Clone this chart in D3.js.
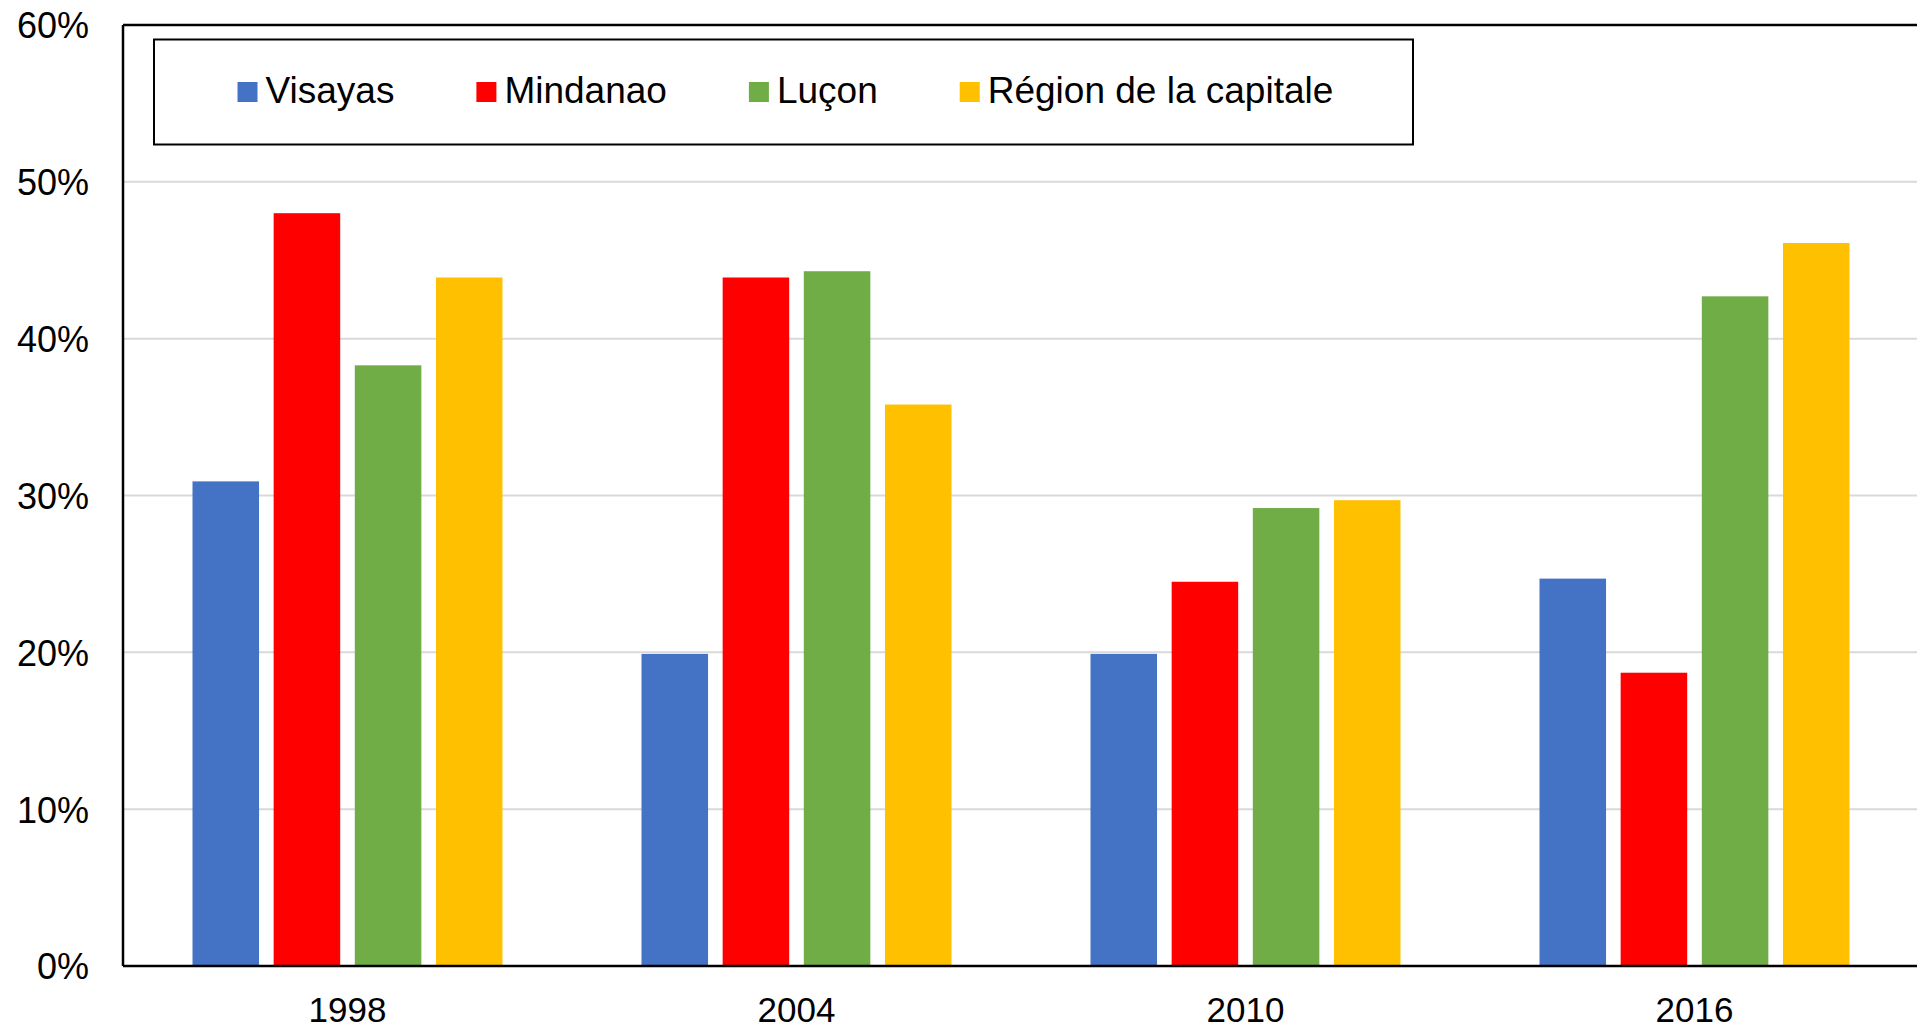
<!DOCTYPE html>
<html>
<head>
<meta charset="utf-8">
<script src="https://cdn.jsdelivr.net/npm/d3@7"></script>
<style>
  html, body { margin: 0; padding: 0; background: #fff; }
  svg { display: block; }
  text { font-family: "Liberation Sans", Arial, sans-serif; fill: #000; }
</style>
</head>
<body>
<svg id="chart" width="1917" height="1029"></svg>
<script>
const years = ["1998", "2004", "2010", "2016"];
const seriesNames = ["Visayas", "Mindanao", "Luçon", "Région de la capitale"];
const seriesColors = ["#4472C4", "#FF0000", "#70AD47", "#FFC000"];
const visayas = [30.9, 19.9, 19.9, 24.7];
const mindanao = [48.0, 43.9, 24.5, 18.7];
const lucon = [38.3, 44.3, 29.2, 42.7];
const capitale = [43.9, 35.8, 29.7, 46.1];
const yTicks = [0, 10, 20, 30, 40, 50, 60];

(function () {
const seriesValues = [visayas, mindanao, lucon, capitale];

const svg = d3.select("#chart");
const pLeft = 123, pRight = 1919, pTop = 25, pBottom = 966;

const x0 = d3.scaleBand().domain(years).range([pLeft, pRight]).paddingInner(0).paddingOuter(0);
const groupPad = 69.5;
const x1 = d3.scaleBand().domain(seriesNames)
  .range([groupPad, x0.bandwidth() - groupPad]).paddingInner(0.18).paddingOuter(0);
const y = d3.scaleLinear().domain([0, 60]).range([pBottom, pTop]);

// gridlines
svg.append("g").selectAll("line")
  .data(yTicks.filter(t => t > 0 && t < 60))
  .join("line")
  .attr("x1", pLeft).attr("x2", 1917)
  .attr("y1", d => y(d)).attr("y2", d => y(d))
  .attr("stroke", "#d9d9d9").attr("stroke-width", 2);

// bars
const rows = [];
years.forEach((yr, i) => {
  seriesNames.forEach((s, j) => rows.push({ year: yr, series: s, value: seriesValues[j][i], color: seriesColors[j] }));
});
svg.append("g").selectAll("rect")
  .data(rows)
  .join("rect")
  .attr("x", d => x0(d.year) + x1(d.series))
  .attr("width", x1.bandwidth())
  .attr("y", d => y(d.value))
  .attr("height", d => y(0) - y(d.value))
  .attr("fill", d => d.color);

// frame: left, top, bottom
svg.append("line").attr("x1", pLeft).attr("x2", pLeft).attr("y1", y(60)).attr("y2", y(0))
  .attr("stroke", "#000").attr("stroke-width", 2.5);
svg.append("line").attr("x1", pLeft).attr("x2", 1917).attr("y1", y(60)).attr("y2", y(60))
  .attr("stroke", "#000").attr("stroke-width", 2.5);
svg.append("line").attr("x1", pLeft).attr("x2", 1917).attr("y1", y(0)).attr("y2", y(0))
  .attr("stroke", "#000").attr("stroke-width", 2.5);

// y axis labels
const yAxis = d3.axisLeft(y).tickValues(yTicks).tickSize(0).tickPadding(0).tickFormat(d => d + "%");
const gy = svg.append("g").attr("transform", "translate(89,0)").call(yAxis);
gy.select(".domain").remove();
gy.selectAll("text").attr("font-size", 36).attr("font-family", '"Liberation Sans", Arial, sans-serif')
  .attr("fill", "#000").attr("dy", "0.36em").attr("x", 0);

// x axis labels
const xAxis = d3.axisBottom(x0).tickSize(0).tickPadding(0);
const gx = svg.append("g").attr("transform", `translate(0,${pBottom})`).call(xAxis);
gx.select(".domain").remove();
gx.selectAll("text").attr("font-size", 35).attr("font-family", '"Liberation Sans", Arial, sans-serif')
  .attr("fill", "#000").attr("y", 56).attr("dy", 0);

// legend
svg.append("rect").attr("x", 154).attr("y", 39.5).attr("width", 1259).attr("height", 105)
  .attr("fill", "none").attr("stroke", "#000").attr("stroke-width", 2);
let lx = 237.5;
seriesNames.forEach((s, j) => {
  const g = svg.append("g");
  g.append("rect").attr("x", lx).attr("y", 82).attr("width", 20).attr("height", 20).attr("fill", seriesColors[j]);
  const t = g.append("text").attr("x", lx + 28).attr("y", 103).attr("font-size", 37).text(s);
  const w = t.node().getComputedTextLength();
  lx = lx + 28 + w + 82;
});
})();
</script>
</body>
</html>
